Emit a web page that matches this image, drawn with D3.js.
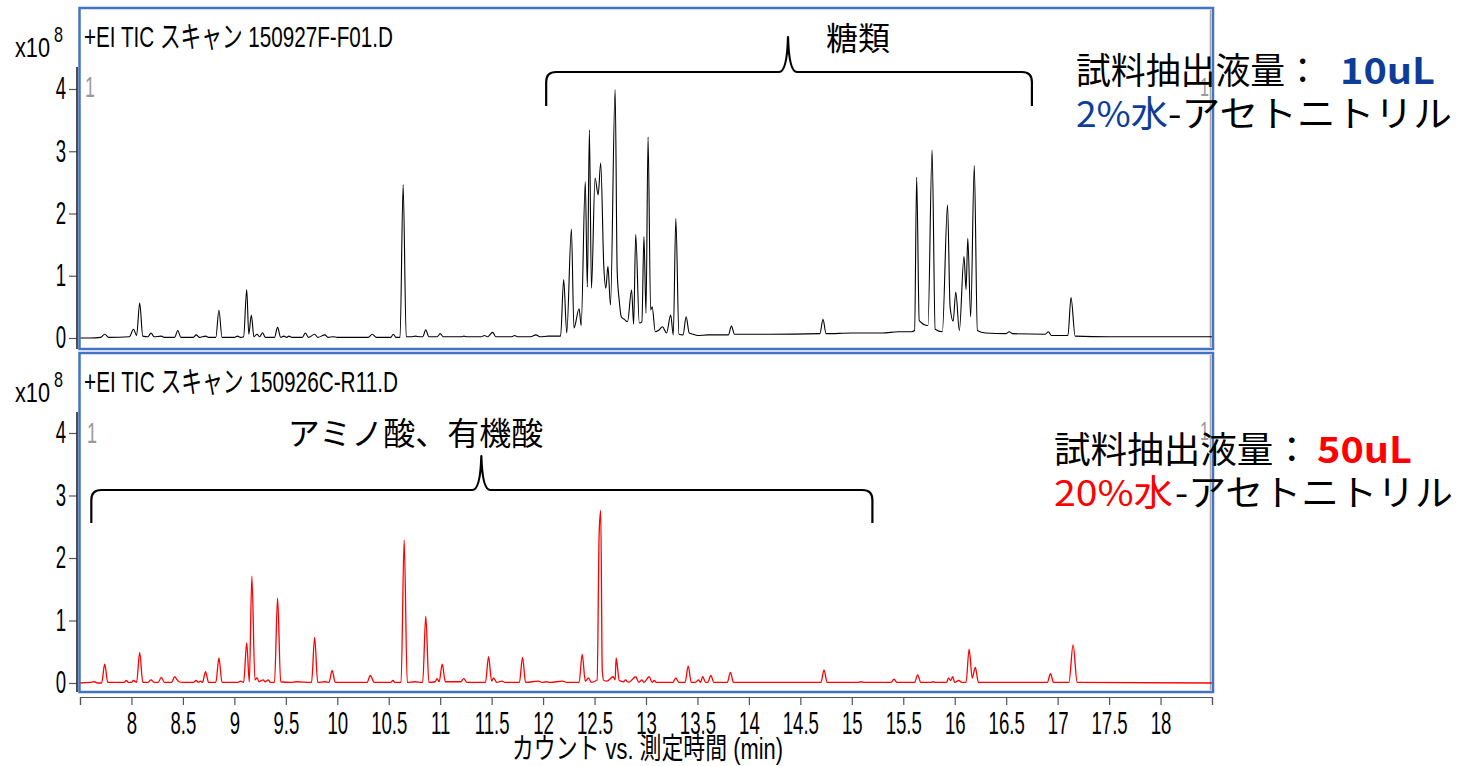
<!DOCTYPE html>
<html>
<head>
<meta charset="utf-8">
<script src="https://cdn.jsdelivr.net/npm/d3@7"></script>
<style>
  html, body { margin: 0; padding: 0; background: #fff; }
  svg { display: block; }
</style>
</head>
<body>
<svg id="chart" width="1457" height="766"></svg>
<script>
// ---- data -------------------------------------------------------------
// Retention time axis (min)
const timeDomain = [7.5, 18.5];
const timeTicks = [7.5, 8, 8.5, 9, 9.5, 10, 10.5, 11, 11.5, 12, 12.5, 13, 13.5,
                   14, 14.5, 15, 15.5, 16, 16.5, 17, 17.5, 18, 18.5];
const timeTickLabels = ["", "8", "8.5", "9", "9.5", "10", "10.5", "11", "11.5", "12", "12.5", "13", "13.5",
                        "14", "14.5", "15", "15.5", "16", "16.5", "17", "17.5", "18", ""];
// Counts axis (x10^8)
const countTicks = [0, 1, 2, 3, 4];

const panelTitles = ["+EI TIC スキャン 150927F-F01.D", "+EI TIC スキャン 150926C-R11.D"];

// TIC, 150927F-F01.D  [time (min), counts x10^8]
const ticF01 = [
  [7.50,0.00],[7.60,0.00],[7.70,0.01],[7.74,0.06],[7.78,0.01],[7.98,0.02],[8.02,0.14],[8.05,0.04],
  [8.08,0.56],[8.11,0.03],[8.16,0.02],[8.19,0.08],[8.22,0.02],[8.29,0.03],[8.32,0.01],[8.42,0.01],
  [8.45,0.12],[8.48,0.01],[8.60,0.01],[8.63,0.05],[8.66,0.01],[8.72,0.03],[8.75,0.01],[8.82,0.01],
  [8.85,0.45],[8.88,0.01],[9.00,0.01],[9.03,0.03],[9.06,0.01],[9.09,0.02],[9.12,0.78],[9.14,0.06],
  [9.165,0.37],[9.19,0.02],[9.22,0.06],[9.245,0.02],[9.275,0.085],[9.30,0.01],[9.39,0.01],[9.42,0.17],
  [9.45,0.01],[9.48,0.03],[9.51,0.01],[9.53,0.03],[9.56,0.01],[9.66,0.01],[9.69,0.08],[9.72,0.01],
  [9.78,0.06],[9.81,0.01],[9.88,0.05],[9.91,0.01],[9.96,0.02],[10.00,0.01],[10.30,0.01],[10.34,0.06],
  [10.38,0.01],[10.52,0.01],[10.545,0.06],[10.57,0.01],[10.61,0.01],[10.64,2.46],[10.67,0.02],[10.72,0.02],
  [10.76,0.03],[10.80,0.02],[10.83,0.02],[10.86,0.13],[10.89,0.02],[10.97,0.02],[11.00,0.07],[11.03,0.02],
  [11.21,0.02],[11.23,0.03],[11.26,0.02],[11.40,0.02],[11.43,0.04],[11.46,0.02],[11.51,0.09],[11.54,0.02],
  [11.70,0.02],[11.72,0.04],[11.76,0.02],[11.88,0.02],[11.93,0.05],[11.97,0.02],[12.05,0.03],[12.17,0.03],
  [12.20,0.94],[12.23,0.08],[12.275,1.75],[12.30,0.16],[12.35,0.47],[12.37,0.20],[12.41,2.51],[12.43,0.82],
  [12.45,3.34],[12.47,0.80],[12.505,2.57],[12.535,2.30],[12.56,2.81],[12.59,1.15],[12.61,0.80],[12.63,1.15],
  [12.655,0.53],[12.70,3.99],[12.72,1.07],[12.74,0.60],[12.76,0.34],[12.79,0.30],[12.82,0.26],[12.86,0.77],
  [12.88,0.22],[12.90,1.66],[12.935,0.24],[12.96,0.26],[12.98,1.63],[13.00,0.40],[13.02,3.23],[13.045,0.45],
  [13.06,0.50],[13.09,0.10],[13.12,0.12],[13.16,0.18],[13.20,0.08],[13.24,0.37],[13.265,0.05],[13.29,1.92],
  [13.32,0.06],[13.36,0.05],[13.39,0.34],[13.42,0.08],[13.46,0.06],[13.50,0.04],[13.60,0.05],[13.80,0.05],
  [13.83,0.19],[13.86,0.06],[14.20,0.06],[14.69,0.07],[14.72,0.30],[14.75,0.07],[15.00,0.08],[15.30,0.08],
  [15.45,0.10],[15.58,0.10],[15.61,0.12],[15.63,2.58],[15.655,0.28],[15.74,0.20],[15.78,3.02],[15.81,0.14],
  [15.88,0.10],[15.93,2.14],[15.955,0.50],[15.985,0.27],[16.01,0.74],[16.045,0.12],[16.09,1.31],[16.11,0.78],
  [16.127,1.60],[16.155,0.34],[16.19,2.77],[16.22,0.12],[16.30,0.08],[16.50,0.07],[16.53,0.10],[16.56,0.07],
  [16.88,0.06],[16.91,0.10],[16.94,0.04],[17.10,0.04],[17.13,0.65],[17.17,0.03],[17.50,0.02],[18.50,0.02]
];

// TIC, 150926C-R11.D  [time (min), counts x10^8]
const ticR11 = [
  [7.50,0.00],[7.60,0.01],[7.64,0.02],[7.67,0.00],[7.71,0.00],[7.74,0.30],[7.77,0.01],[7.93,0.01],
  [7.95,0.04],[7.97,0.01],[8.00,0.01],[8.02,0.04],[8.05,0.01],[8.08,0.49],[8.11,0.01],[8.16,0.01],
  [8.19,0.05],[8.22,0.01],[8.26,0.01],[8.29,0.09],[8.32,0.01],[8.39,0.01],[8.42,0.10],[8.44,0.06],
  [8.46,0.02],[8.50,0.01],[8.60,0.01],[8.63,0.04],[8.65,0.01],[8.67,0.03],[8.69,0.01],[8.72,0.18],
  [8.75,0.01],[8.82,0.01],[8.85,0.40],[8.88,0.01],[9.03,0.01],[9.06,0.03],[9.09,0.01],[9.12,0.64],
  [9.145,0.02],[9.17,1.71],[9.20,0.05],[9.22,0.08],[9.24,0.02],[9.28,0.05],[9.30,0.02],[9.33,0.05],
  [9.35,0.01],[9.39,0.01],[9.42,1.36],[9.45,0.02],[9.55,0.01],[9.60,0.02],[9.75,0.01],[9.78,0.73],
  [9.81,0.01],[9.88,0.02],[9.92,0.01],[9.95,0.20],[9.98,0.01],[10.29,0.01],[10.32,0.12],[10.36,0.01],
  [10.52,0.01],[10.54,0.04],[10.56,0.01],[10.62,0.01],[10.65,2.29],[10.68,0.01],[10.75,0.02],[10.83,0.01],
  [10.86,1.07],[10.89,0.01],[10.95,0.02],[10.97,0.07],[10.99,0.02],[11.02,0.30],[11.05,0.02],[11.20,0.02],
  [11.23,0.07],[11.26,0.01],[11.44,0.01],[11.47,0.42],[11.50,0.03],[11.52,0.08],[11.55,0.01],[11.60,0.03],
  [11.63,0.01],[11.77,0.01],[11.80,0.41],[11.83,0.01],[11.955,0.03],[11.99,0.01],[12.03,0.02],[12.07,0.01],
  [12.19,0.03],[12.23,0.01],[12.35,0.01],[12.38,0.46],[12.41,0.03],[12.44,0.08],[12.47,0.01],[12.525,0.05],
  [12.545,2.40],[12.56,2.76],[12.575,0.20],[12.59,0.04],[12.62,0.03],[12.68,0.10],[12.70,0.05],[12.71,0.40],
  [12.74,0.04],[12.78,0.02],[12.80,0.05],[12.83,0.01],[12.90,0.10],[12.93,0.01],[12.96,0.05],[12.98,0.01],
  [13.03,0.10],[13.06,0.01],[13.08,0.04],[13.10,0.01],[13.26,0.01],[13.29,0.08],[13.32,0.01],[13.38,0.01],
  [13.41,0.27],[13.44,0.01],[13.48,0.01],[13.51,0.05],[13.53,0.01],[13.55,0.10],[13.58,0.01],[13.60,0.01],
  [13.63,0.12],[13.66,0.01],[13.79,0.01],[13.82,0.17],[13.85,0.01],[14.10,0.01],[14.70,0.01],[14.73,0.21],
  [14.76,0.01],[15.06,0.01],[15.09,0.02],[15.12,0.01],[15.38,0.01],[15.41,0.06],[15.44,0.01],[15.61,0.01],
  [15.64,0.13],[15.67,0.01],[15.77,0.01],[15.79,0.02],[15.81,0.01],[15.92,0.01],[15.94,0.08],[15.96,0.04],
  [15.98,0.10],[16.00,0.01],[16.04,0.04],[16.07,0.01],[16.11,0.01],[16.14,0.54],[16.17,0.08],[16.20,0.25],
  [16.23,0.01],[16.90,0.01],[16.93,0.15],[16.96,0.01],[17.11,0.01],[17.15,0.61],[17.19,0.01],[18.50,0.00]
];

// Group brackets: start / centre / end times, label and label time
const bracketLabels = ["糖類", "アミノ酸、有機酸"];
const bracketSpans = [[12.03, 14.38, 16.75], [7.61, 11.40, 15.20]];
const bracketLabelTimes = [15.06, 10.76];

// Extraction conditions per run
const extractVolumes = ["10uL", "50uL"];
const waterFractions = ["2%水", "20%水"];
const conditionColors = ["#0d3d99", "#ff0000"];
const traceColors = ["#000000", "#ff0000"];

// ---- layout ---------------------------------------------------------
const svg = d3.select("#chart");
const boxBlue = "#4472c4";
const condensed = "'Liberation Sans', 'Noto Sans CJK JP', sans-serif";
const jpFont = "'Noto Sans CJK JP', sans-serif";

const x = d3.scaleLinear().domain(timeDomain).range([80, 1212]);

const panels = [
  { top: 8,   bottom: 349, zeroY: 338, fourY: 89,  axisTop: 67 },
  { top: 353, bottom: 692, zeroY: 683, fourY: 433, axisTop: 412 }
];
const traces = [ticF01, ticR11];

const defs = svg.append("defs");

panels.forEach((p, i) => {
  const y = d3.scaleLinear().domain([0, 4]).range([p.zeroY, p.fourY]);
  const g = svg.append("g");

  defs.append("clipPath").attr("id", "clip" + i)
    .append("rect").attr("x", 80).attr("y", p.top + 1)
    .attr("width", 1132).attr("height", p.bottom - p.top - 2);

  // inner right frame line
  g.append("line")
    .attr("x1", 1210.5).attr("x2", 1210.5)
    .attr("y1", p.top + 2).attr("y2", p.bottom - 2)
    .attr("stroke", "#a8a8a8").attr("stroke-width", 1.5);

  // chromatogram trace
  const line = d3.line()
    .x(d => x(d[0]))
    .y(d => y(d[1]))
    .curve(d3.curveMonotoneX);
  g.append("path")
    .datum(traces[i])
    .attr("clip-path", "url(#clip" + i + ")")
    .attr("fill", "none")
    .attr("stroke", traceColors[i])
    .attr("stroke-width", i === 0 ? 1.1 : 1.3)
    .attr("stroke-linejoin", "round")
    .attr("d", line);

  // panel frame
  g.append("rect")
    .attr("x", 79.5).attr("y", p.top)
    .attr("width", 1133.5).attr("height", p.bottom - p.top)
    .attr("fill", "none").attr("stroke", boxBlue).attr("stroke-width", 2.5);

  // y axis
  const yAxis = g.append("g")
    .attr("transform", "translate(77,0)")
    .call(d3.axisLeft(y).tickValues(countTicks).tickSize(8).tickPadding(3).tickFormat(d3.format("d")));
  yAxis.select(".domain").remove();
  yAxis.selectAll(".tick line").attr("stroke", "#555").attr("stroke-width", 1.2);
  yAxis.selectAll(".tick text")
    .attr("font-family", condensed).attr("font-size", 31).attr("fill", "#000")
    .attr("x", -11 / 0.6)
    .attr("transform", "scale(0.6,1)");
  g.append("line")
    .attr("x1", 77).attr("x2", 77)
    .attr("y1", p.axisTop).attr("y2", p.bottom)
    .attr("stroke", "#222").attr("stroke-width", 1.6);

  // exponent label
  const off = p.top - 8;
  g.append("text").attr("x", 15).attr("y", 57 + off)
    .attr("font-family", condensed).attr("font-size", 28)
    .attr("textLength", 35).attr("lengthAdjust", "spacingAndGlyphs").text("x10");
  g.append("text").attr("x", 54).attr("y", 42 + off)
    .attr("font-family", condensed).attr("font-size", 22)
    .attr("textLength", 9).attr("lengthAdjust", "spacingAndGlyphs").text("8");

  // panel title
  g.append("text").attr("x", 84).attr("y", 47 + off)
    .attr("font-family", condensed).attr("font-size", 30)
    .attr("textLength", i === 0 ? 309 : 314).attr("lengthAdjust", "spacingAndGlyphs")
    .text(panelTitles[i]);

  // marker digits at the trace corners
  g.append("text").attr("x", i === 0 ? 85 : 87).attr("y", i === 0 ? 97 : 443)
    .attr("font-family", condensed).attr("font-size", 29).attr("fill", "#9a9a9a")
    .attr("textLength", 10).attr("lengthAdjust", "spacingAndGlyphs").text("1");
  g.append("text").attr("x", 1200).attr("y", i === 0 ? 96 : 440)
    .attr("font-family", condensed).attr("font-size", 26).attr("fill", "#9a9a9a")
    .attr("textLength", 9).attr("lengthAdjust", "spacingAndGlyphs").text("1");
});

// ---- time axis --------------------------------------------------------
const xAxis = svg.append("g")
  .attr("transform", "translate(0,697)")
  .call(d3.axisBottom(x).tickValues(timeTicks).tickSize(8).tickPadding(7)
    .tickFormat((d, i) => timeTickLabels[i]));
xAxis.select(".domain").attr("stroke", "#555").attr("stroke-width", 1.2);
xAxis.selectAll(".tick line").attr("stroke", "#555").attr("stroke-width", 1.2);
xAxis.selectAll(".tick text")
  .attr("font-family", condensed).attr("font-size", 31).attr("fill", "#000")
  .attr("transform", "scale(0.6,1)");

svg.append("text").attr("x", 512).attr("y", 759)
  .attr("font-family", condensed).attr("font-size", 29)
  .attr("textLength", 271).attr("lengthAdjust", "spacingAndGlyphs")
  .text("カウント vs. 測定時間 (min)");

// ---- group brackets --------------------------------------------------
const bracketGeom = [
  { yH: 72,  yEnd: 106, yTip: 37,  labelY: 50 },
  { yH: 490, yEnd: 523, yTip: 456, labelY: 445 }
];
function bracePath(x1, xm, x2, yH, yEnd, yTip) {
  const r = 10;
  return `M${x1},${yEnd} L${x1},${yH + r} Q${x1},${yH} ${x1 + r},${yH}` +
         ` L${xm - 9},${yH} Q${xm - 1},${yH} ${xm},${yTip}` +
         ` Q${xm + 1},${yH} ${xm + 9},${yH}` +
         ` L${x2 - r},${yH} Q${x2},${yH} ${x2},${yH + r} L${x2},${yEnd}`;
}
bracketSpans.forEach((s, i) => {
  const gm = bracketGeom[i];
  svg.append("path")
    .attr("d", bracePath(x(s[0]), x(s[1]), x(s[2]), gm.yH, gm.yEnd, gm.yTip))
    .attr("fill", "none").attr("stroke", "#000").attr("stroke-width", 2.2)
    .attr("stroke-linejoin", "round");
  svg.append("text")
    .attr("x", x(bracketLabelTimes[i])).attr("y", gm.labelY)
    .attr("text-anchor", "middle")
    .attr("font-family", jpFont).attr("font-size", 32).attr("fill", "#000")
    .text(bracketLabels[i]);
});

// ---- extraction conditions -------------------------------------------
const condGeom = [
  { x: 1076, y1: 84,  y2: 127, headLen: 244, volX: 1340, fracLen: 92,  restX: 1168, restLen: 284 },
  { x: 1054, y1: 463, y2: 506, headLen: 256, volX: 1317, fracLen: 119, restX: 1175, restLen: 278 }
];
condGeom.forEach((c, i) => {
  const t = svg.append("g").attr("font-family", jpFont).attr("font-size", 36);
  t.append("text").attr("x", c.x).attr("y", c.y1).attr("fill", "#000")
    .attr("textLength", c.headLen).attr("lengthAdjust", "spacingAndGlyphs")
    .text("試料抽出液量：");
  t.append("text").attr("x", c.volX).attr("y", c.y1)
    .attr("fill", conditionColors[i]).attr("font-weight", "bold")
    .attr("textLength", 95).attr("lengthAdjust", "spacingAndGlyphs")
    .text(extractVolumes[i]);
  t.append("text").attr("x", c.x).attr("y", c.y2).attr("fill", conditionColors[i])
    .attr("textLength", c.fracLen).attr("lengthAdjust", "spacingAndGlyphs")
    .text(waterFractions[i]);
  t.append("text").attr("x", c.restX).attr("y", c.y2).attr("fill", "#000")
    .attr("textLength", c.restLen).attr("lengthAdjust", "spacingAndGlyphs")
    .text("-アセトニトリル");
});
</script>
</body>
</html>
